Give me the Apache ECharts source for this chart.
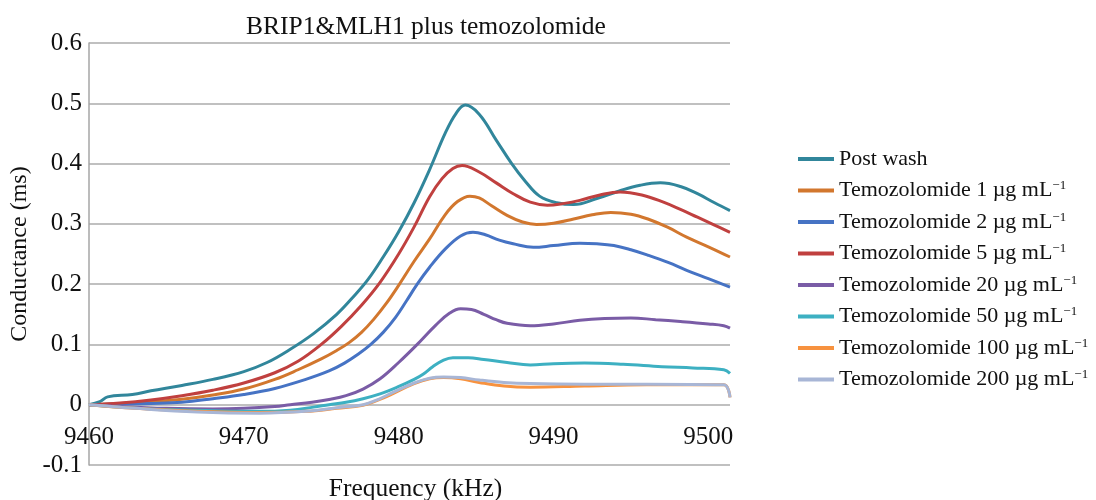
<!DOCTYPE html>
<html>
<head>
<meta charset="utf-8">
<title>BRIP1&amp;MLH1 plus temozolomide</title>
<script src="https://cdn.jsdelivr.net/npm/echarts@6/dist/echarts.min.js"></script>
<style>
  html, body { margin: 0; padding: 0; background: #ffffff; }
  #chart { width: 1096px; height: 500px; }
</style>
</head>
<body>
<div id="chart"></div>
<script>
// Conductance (ms) against frequency (kHz), one array of [kHz, ms] pairs per trace
const postWash = [[9460, 0], [9460.7, 0.005], [9461.2, 0.013], [9462.8, 0.017], [9464, 0.023], [9466, 0.032], [9468, 0.042], [9470, 0.055], [9471.5, 0.07], [9473, 0.092], [9474.5, 0.118], [9476, 0.15], [9477, 0.177], [9478, 0.207], [9479, 0.245], [9480, 0.287], [9481, 0.335], [9482, 0.39], [9483, 0.45], [9483.7, 0.483], [9484.3, 0.497], [9485.2, 0.482], [9486.3, 0.439], [9487.3, 0.4], [9488.2, 0.37], [9489.1, 0.346], [9490.2, 0.335], [9491.3, 0.332], [9492.8, 0.342], [9494.3, 0.355], [9495.6, 0.364], [9496.9, 0.368], [9498.2, 0.362], [9499.3, 0.35], [9500.4, 0.335], [9501.4, 0.322]];
const tmz1 = [[9460, 0], [9462, 0.002], [9464, 0.005], [9466, 0.009], [9468, 0.016], [9470, 0.026], [9472, 0.042], [9473.5, 0.058], [9475, 0.076], [9476, 0.09], [9476.8, 0.103], [9477.6, 0.12], [9478.4, 0.142], [9479.2, 0.168], [9480, 0.198], [9481, 0.238], [9482, 0.275], [9483, 0.315], [9483.8, 0.337], [9484.6, 0.346], [9485.2, 0.343], [9486, 0.33], [9487, 0.314], [9488, 0.303], [9488.9, 0.299], [9490, 0.301], [9491.3, 0.308], [9492.5, 0.315], [9493.7, 0.319], [9495, 0.316], [9496.1, 0.308], [9497.4, 0.294], [9498.6, 0.278], [9500, 0.262], [9501.4, 0.245]];
const tmz2 = [[9460, 0], [9462, 0.001], [9464, 0.002], [9466, 0.004], [9468, 0.01], [9470, 0.017], [9472, 0.027], [9474, 0.042], [9475.5, 0.056], [9476.5, 0.069], [9477.4, 0.084], [9478.2, 0.1], [9479, 0.12], [9479.8, 0.145], [9480.5, 0.172], [9481.2, 0.2], [9482, 0.228], [9483, 0.258], [9484, 0.28], [9484.8, 0.286], [9485.6, 0.282], [9486.5, 0.273], [9487.4, 0.267], [9488.7, 0.261], [9490, 0.264], [9491.7, 0.268], [9492.8, 0.267], [9493.9, 0.264], [9495, 0.257], [9496.1, 0.248], [9497.4, 0.236], [9498.6, 0.223], [9500, 0.209], [9501.4, 0.195]];
const tmz5 = [[9460, 0], [9462, 0.003], [9464, 0.008], [9466, 0.015], [9468, 0.024], [9470, 0.036], [9472, 0.053], [9473.5, 0.072], [9475, 0.1], [9476.3, 0.13], [9477.6, 0.165], [9478.8, 0.203], [9480, 0.25], [9481, 0.295], [9482, 0.345], [9482.8, 0.375], [9483.5, 0.392], [9484.1, 0.397], [9485.2, 0.386], [9486.3, 0.368], [9487.4, 0.35], [9488.5, 0.336], [9489.6, 0.331], [9490.7, 0.334], [9491.7, 0.339], [9493, 0.348], [9494.3, 0.353], [9495.7, 0.348], [9497.1, 0.336], [9498.2, 0.324], [9499.3, 0.311], [9500.4, 0.298], [9501.4, 0.286]];
const tmz20 = [[9460, 0], [9462, -0.003], [9465, -0.006], [9468, -0.007], [9470, -0.006], [9472, -0.003], [9473, 0], [9474.4, 0.004], [9475.6, 0.009], [9476.6, 0.015], [9477.7, 0.026], [9478.8, 0.043], [9480, 0.07], [9481.2, 0.1], [9482.4, 0.132], [9483.3, 0.152], [9484, 0.159], [9484.7, 0.158], [9485.5, 0.15], [9486.3, 0.141], [9487, 0.135], [9488.5, 0.131], [9490, 0.134], [9491.7, 0.14], [9493.3, 0.143], [9495, 0.144], [9496.6, 0.141], [9498.2, 0.138], [9500, 0.134], [9501, 0.131], [9501.4, 0.127]];
const tmz50 = [[9460, 0], [9462, -0.004], [9465, -0.008], [9468, -0.01], [9471, -0.011], [9473, -0.009], [9474.5, -0.004], [9475.5, 0], [9476.6, 0.004], [9477.7, 0.01], [9478.8, 0.018], [9479.9, 0.029], [9481, 0.042], [9481.6, 0.051], [9482.2, 0.063], [9482.9, 0.074], [9483.5, 0.078], [9484.5, 0.078], [9485.5, 0.075], [9487, 0.07], [9488.5, 0.066], [9490, 0.068], [9492, 0.069], [9494.5, 0.067], [9497, 0.063], [9499, 0.061], [9501, 0.058], [9501.4, 0.052]];
const tmz100 = [[9460, 0], [9463, -0.006], [9467, -0.011], [9471, -0.013], [9474, -0.011], [9476, -0.006], [9477.7, -0.001], [9478.7, 0.008], [9479.6, 0.018], [9481, 0.035], [9482, 0.043], [9482.9, 0.045], [9484, 0.043], [9485.2, 0.037], [9486.8, 0.031], [9488.5, 0.029], [9492, 0.031], [9496, 0.033], [9501, 0.033], [9501.4, 0.012]];
const tmz200 = [[9460, 0], [9463, -0.006], [9467, -0.012], [9471, -0.014], [9474, -0.011], [9476, -0.005], [9477.7, 0], [9478.7, 0.009], [9479.6, 0.02], [9481, 0.036], [9482, 0.044], [9482.9, 0.046], [9484, 0.045], [9485.2, 0.041], [9486.8, 0.037], [9488.5, 0.035], [9492, 0.034], [9496, 0.034], [9501, 0.033], [9501.4, 0.012]];

// Legend labels: plain part and superscript part
const seriesNames = ['Post wash', 'Temozolomide 1 µg mL', 'Temozolomide 2 µg mL', 'Temozolomide 5 µg mL',
  'Temozolomide 20 µg mL', 'Temozolomide 50 µg mL', 'Temozolomide 100 µg mL', 'Temozolomide 200 µg mL'];
const superscripts = ['', '−1', '−1', '−1', '−1', '−1', '−1', '−1'];
const seriesData = [postWash, tmz1, tmz2, tmz5, tmz20, tmz50, tmz100, tmz200];
const seriesColors = ['#31869B', '#D2772E', '#4673C4', '#C0403F', '#7A5CA6', '#3DB0C2', '#F7923F', '#A8B6D6'];

const FONT = '"Liberation Serif", "Times New Roman", serif';

const chart = echarts.init(document.getElementById('chart'), null, { renderer: 'canvas' });

chart.setOption({
  animation: false,
  backgroundColor: '#ffffff',
  title: {
    text: 'BRIP1&MLH1 plus temozolomide',
    left: 246,
    top: 14,
    padding: 0,
    textStyle: { fontFamily: FONT, fontSize: 25.5, fontWeight: 'normal', color: '#111' }
  },
  grid: { left: 89, right: 366, top: 43, bottom: 35, containLabel: false, outerBoundsMode: 'none' },
  legend: {
    orient: 'vertical',
    left: 798,
    top: 148,
    padding: 0,
    icon: 'rect',
    itemWidth: 36,
    itemHeight: 4,
    itemGap: 9.5,
    data: seriesNames,
    formatter: function (name) {
      const i = seriesNames.indexOf(name);
      return superscripts[i] ? '{t|' + name + '}{s|' + superscripts[i] + '}' : '{t|' + name + '}';
    },
    textStyle: {
      fontFamily: FONT,
      fontSize: 22,
      lineHeight: 22,
      color: '#111',
      rich: {
        t: { fontFamily: FONT, fontSize: 22, lineHeight: 22, color: '#111' },
        s: { fontFamily: FONT, fontSize: 13, color: '#111', verticalAlign: 'top', padding: [0, 0, 10, 0] }
      }
    }
  },
  xAxis: {
    type: 'value',
    min: 9460,
    max: 9501.4,
    interval: 10,
    name: 'Frequency (kHz)',
    nameLocation: 'middle',
    nameGap: 11,
    nameTextStyle: { fontFamily: FONT, fontSize: 25.5, color: '#111', padding: [0, 0, 0, 12] },
    axisLine: { show: false, onZero: false },
    axisTick: { show: false },
    splitLine: { show: false },
    axisLabel: {
      margin: -40,
      fontFamily: FONT,
      fontSize: 25,
      color: '#111',
      showMaxLabel: false,
      formatter: function (v) { return (Math.abs(v - Math.round(v)) < 1e-6 && Math.round(v) % 10 === 0) ? String(Math.round(v)) : ''; }
    }
  },
  yAxis: {
    type: 'value',
    min: -0.1,
    max: 0.6,
    interval: 0.1,
    name: 'Conductance (ms)',
    nameLocation: 'middle',
    nameGap: 47,
    nameTextStyle: { fontFamily: FONT, fontSize: 24, color: '#111' },
    axisLine: { show: true, onZero: false, lineStyle: { color: '#a6a6a6', width: 1.5 } },
    axisTick: { show: false },
    splitLine: { show: true, lineStyle: { color: '#ababab', width: 1.5 } },
    axisLabel: {
      margin: 7,
      fontFamily: FONT,
      fontSize: 25,
      color: '#111',
      formatter: function (v) { return String(Math.round(v * 10) / 10); }
    }
  },
  series: seriesData.map(function (d, i) {
    return {
      name: seriesNames[i],
      type: 'line',
      data: d,
      smooth: 0.4,
      symbol: 'none',
      showSymbol: false,
      color: seriesColors[i],
      lineStyle: { color: seriesColors[i], width: 3 },
      z: 2 + i
    };
  })
});
</script>
</body>
</html>
